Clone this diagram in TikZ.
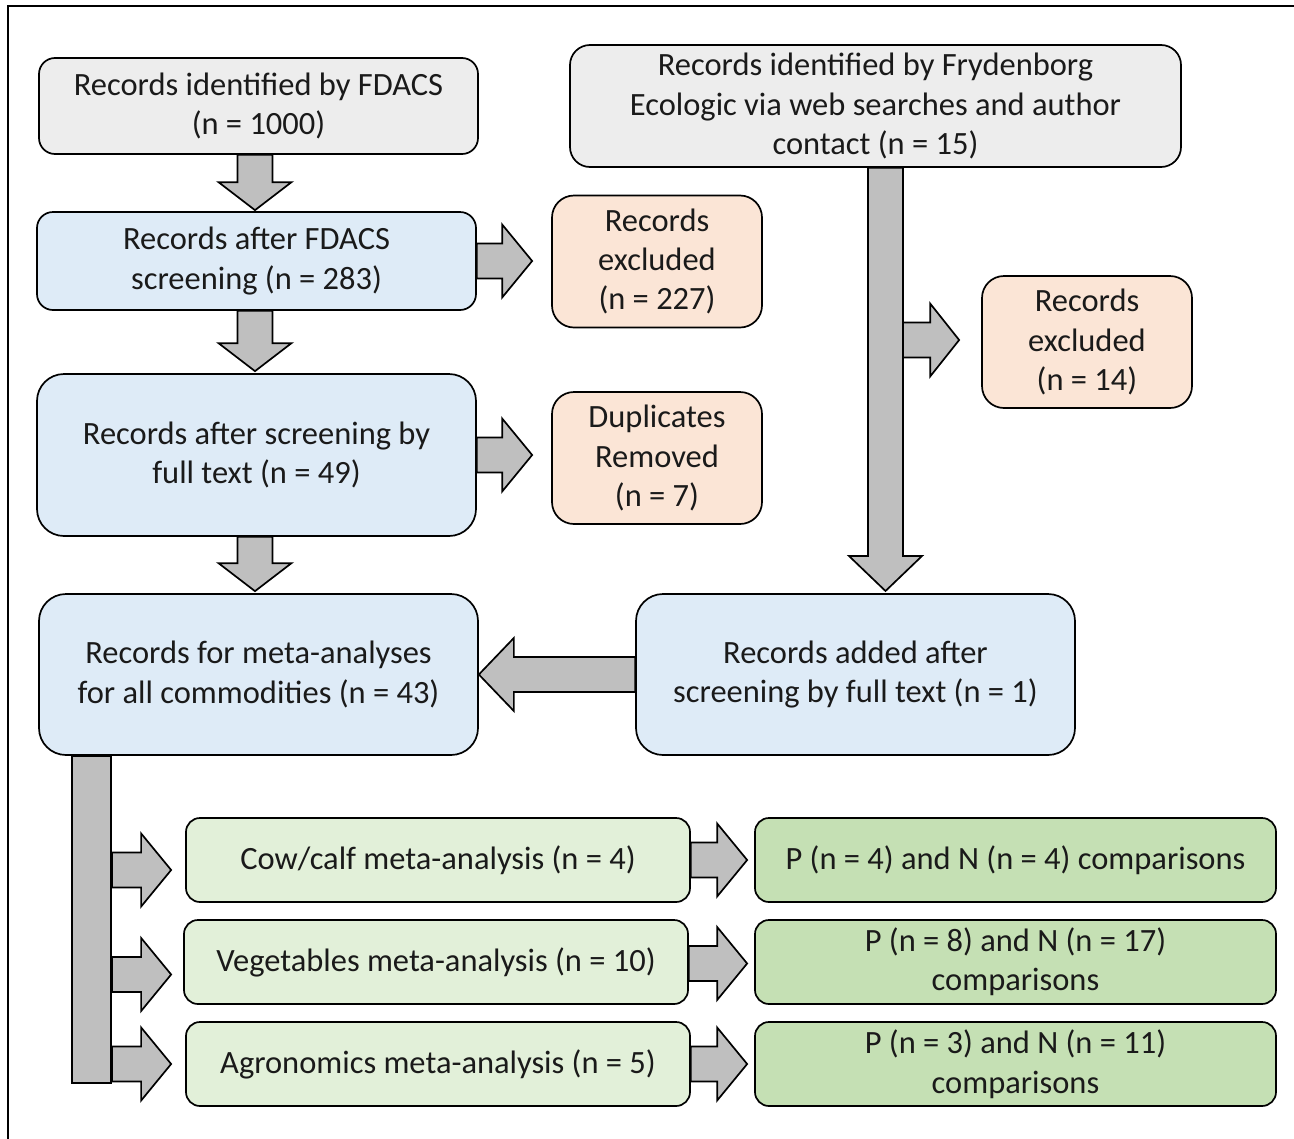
\documentclass[tikz,border=0pt]{standalone}
\usepackage{fontspec}
\setmainfont{Carlito}
\usetikzlibrary{calc}
\definecolor{boxgray}{HTML}{EDEDED}
\definecolor{boxblue}{HTML}{DEEBF7}
\definecolor{boxpeach}{HTML}{FBE5D6}
\definecolor{boxlgreen}{HTML}{E2F0D9}
\definecolor{boxgreen}{HTML}{C5E0B4}
\definecolor{arrowgray}{HTML}{BFBFBF}
\definecolor{textdark}{HTML}{1A1A1A}
% vertical block arrow: start, tip, head length
\newcommand\vblock[3]{%
  \draw[barrow] let \p1=(#1), \p2=(#2) in
  (\x2-17.5bp,\y1) -- (\x2-17.5bp,\y2+#3) -- (\x2-36.5bp,\y2+#3) -- (\x2,\y2)
  -- (\x2+36.5bp,\y2+#3) -- (\x2+17.5bp,\y2+#3) -- (\x2+17.5bp,\y1) -- cycle;}
% rightward block arrow: start, tip (x only), head length
\newcommand\rblock[3]{%
  \draw[barrow] let \p1=(#1), \p2=(#2) in
  (\x1,\y1+17.5bp) -- (\x2-#3,\y1+17.5bp) -- (\x2-#3,\y1+36.5bp) -- (\x2,\y1)
  -- (\x2-#3,\y1-36.5bp) -- (\x2-#3,\y1-17.5bp) -- (\x1,\y1-17.5bp) -- cycle;}
% leftward block arrow: start, tip (x only), head length
\newcommand\lblock[3]{%
  \draw[barrow] let \p1=(#1), \p2=(#2) in
  (\x1,\y1+17.5bp) -- (\x2+#3,\y1+17.5bp) -- (\x2+#3,\y1+36.5bp) -- (\x2,\y1)
  -- (\x2+#3,\y1-36.5bp) -- (\x2+#3,\y1-17.5bp) -- (\x1,\y1-17.5bp) -- cycle;}
\begin{document}
\begin{tikzpicture}[x=1bp,y=-1bp,
  box/.style={draw=black, line width=1.7bp, rectangle, inner sep=0pt, align=center,
    text=textdark, font=\fontsize{32.6}{39.6}\selectfont},
  graybox/.style={box, fill=boxgray, rounded corners=#1},
  bluebox/.style={box, fill=boxblue, rounded corners=#1},
  peachbox/.style={box, fill=boxpeach, rounded corners=22bp, minimum width=210bp, minimum height=132bp},
  lgreenbox/.style={box, fill=boxlgreen, rounded corners=14bp, minimum width=504bp, minimum height=84bp},
  greenbox/.style={box, fill=boxgreen, rounded corners=14bp, minimum width=521bp, minimum height=84bp},
  barrow/.style={draw=black, fill=arrowgray, line width=1.7bp, line join=miter},
]
\useasboundingbox (0,0) rectangle (1294,1139);
\draw[line width=2.6bp] (8,1139) -- (8,6) -- (1294,6);

% boxes
\node[graybox=16bp, minimum width=439bp, minimum height=96bp] (fdacs) at (258.5,106)
  {Records identified by FDACS\\(n = 1000)};
\node[bluebox=16bp, minimum width=439bp, minimum height=98bp] (scr) at (256.5,261)
  {Records after FDACS\\screening (n = 283)};
\node[peachbox] (exa) at (657,261.5) {Records\\excluded\\(n = 227)};
\node[graybox=20bp, minimum width=611bp, minimum height=122bp] (fry) at (875.5,106)
  {Records identified by Frydenborg\\Ecologic via web searches and author\\contact (n = 15)};
\node[peachbox] (exb) at (1087,342) {Records\\excluded\\(n = 14)};
\node[bluebox=27bp, minimum width=439bp, minimum height=162bp] (full) at (256.5,455)
  {Records after screening by\\full text (n = 49)};
\node[peachbox] (dup) at (657,458) {Duplicates\\Removed\\(n = 7)};
\node[bluebox=27bp, minimum width=439bp, minimum height=161bp] (meta) at (258.5,674.5)
  {Records for meta-analyses\\for all commodities (n = 43)};
\node[bluebox=27bp, minimum width=439bp, minimum height=161bp] (added) at (855.5,674.5)
  {Records added after\\screening by full text (n = 1)};
\node[lgreenbox] (cow) at (438,860) {Cow/calf meta-analysis (n = 4)};
\node[lgreenbox] (veg) at (436,962) {Vegetables meta-analysis (n = 10)};
\node[lgreenbox] (agro) at (438,1064) {Agronomics meta-analysis (n = 5)};
\node[greenbox] (p1) at (1015.5,860) {P (n = 4) and N (n = 4) comparisons};
\node[greenbox] (p2) at (1015.5,962) {P (n = 8) and N (n = 17)\\comparisons};
\node[greenbox] (p3) at (1015.5,1064) {P (n = 3) and N (n = 11)\\comparisons};

% connectors (block arrows)
\vblock{fdacs.south}{$(scr.north)+(-1.5,-1)$}{28bp}
\vblock{scr.south}{$(full.north)+(-1.5,-2)$}{28bp}
\vblock{full.south}{$(meta.north)+(-3.5,-2)$}{28bp}
\rblock{scr.east}{$(exa.west)+(-19,0)$}{30bp}
\rblock{$(full.east)+(0,0)$}{$(dup.west)+(-19,0)$}{30bp}

\coordinate (frytip) at (885.5,591);
\vblock{fry.south -| frytip}{frytip}{35bp}
\coordinate (frysplit) at (903,340);
\rblock{frysplit}{$(exb.west)+(-22,0)$}{29bp}

\lblock{added.west}{meta.east}{35bp}

\draw[barrow] ($(meta.south west)+(34,0)$) rectangle ($(meta.south west)+(73,327)$);
\coordinate (b1) at (112,870);
\coordinate (b2) at (112,974.5);
\coordinate (b3) at (112,1064);
\rblock{b1}{$(cow.west)+(-14,0)$}{30bp}
\rblock{b2}{$(veg.west)+(-12,0)$}{30bp}
\rblock{b3}{$(agro.west)+(-14,0)$}{30bp}

\rblock{cow.east}{$(p1.west)+(-7,0)$}{30bp}
\rblock{$(veg.east)+(0,1.5)$}{$(p2.west)+(-7,0)$}{30bp}
\rblock{agro.east}{$(p3.west)+(-7,0)$}{30bp}
\end{tikzpicture}
\end{document}
